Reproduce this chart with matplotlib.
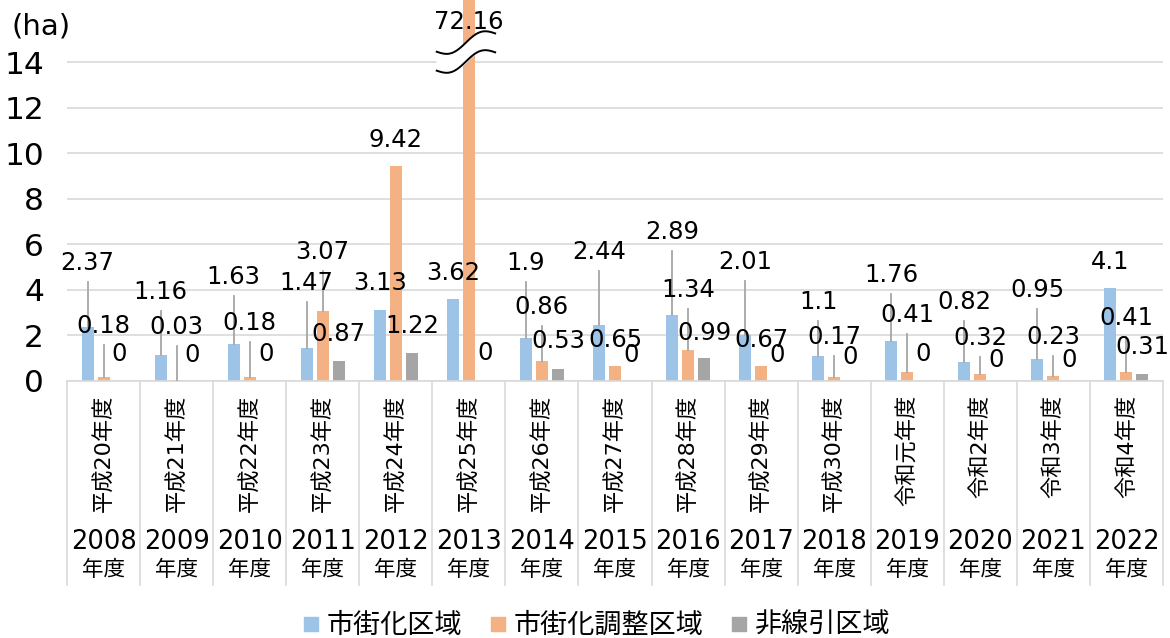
import numpy as np
import matplotlib
matplotlib.use("Agg")
import matplotlib.pyplot as plt
from matplotlib.lines import Line2D
import matplotlib.transforms as mtransforms

plt.rcParams['font.family'] = ['DejaVu Sans', 'Noto Sans CJK JP']

# ---- data ----
era_labels = ["平成20年度", "平成21年度", "平成22年度", "平成23年度", "平成24年度",
              "平成25年度", "平成26年度", "平成27年度", "平成28年度", "平成29年度",
              "平成30年度", "令和元年度", "令和2年度", "令和3年度", "令和4年度"]
years = ["2008", "2009", "2010", "2011", "2012", "2013", "2014", "2015",
         "2016", "2017", "2018", "2019", "2020", "2021", "2022"]
series_names = ["市街化区域", "市街化調整区域", "非線引区域"]
urban = [2.37, 1.16, 1.63, 1.47, 3.13, 3.62, 1.9, 2.44, 2.89, 2.01, 1.1, 1.76, 0.82, 0.95, 4.1]
adjust = [0.18, 0.03, 0.18, 3.07, 9.42, 72.16, 0.86, 0.65, 1.34, 0.67, 0.17, 0.41, 0.32, 0.23, 0.41]
nonline = [0, 0, 0, 0.87, 1.22, 0, 0.53, 0, 0.99, 0, 0, 0, 0, 0, 0.31]

# ---- layout (label heights in axis units) ----
lab_urban = [5.18, 3.91, 4.56, 4.30, 4.30, 4.74, 5.18, 5.66, 6.54, 5.22, 3.47, 4.65, 3.47, 3.99, 5.22]
lab_adjust = [2.41, 2.37, 2.55, 5.66, 10.58, 15.76, 3.25, 1.80, 3.99, 1.80, 1.93, 2.90, 1.89, 1.93, 2.76]
lab_nonline = [1.18, 1.14, 1.18, 2.06, 2.41, 1.23, 1.76, 1.14, 2.11, 1.14, 1.05, 1.18, 0.92, 0.92, 1.49]

colors = ["#9DC3E6", "#F4B183", "#A5A5A5"]
W, H = 1170, 638
fig = plt.figure(figsize=(W / 100, H / 100), dpi=100)
ax_l, ax_r, ax_t, ax_b = 67, 1163, 0, 381
ax = fig.add_axes([ax_l / W, 1 - ax_b / H, (ax_r - ax_l) / W, (ax_b - ax_t) / H])

n = len(years)
x = np.arange(n)
px_per_cat = (ax_r - ax_l) / n
ymax = 381 / (319 / 14)
px_per_unit = 381 / ymax
bw = 12 / px_per_cat
off = 16 / px_per_cat

ax.set_xlim(-0.5, n - 0.5)
ax.set_ylim(0, ymax)

all_vals = [urban, adjust, nonline]
all_labs = [lab_urban, lab_adjust, lab_nonline]
for k in range(3):
    xs = x + (k - 1) * off
    ax.bar(xs, all_vals[k], width=bw, color=colors[k], zorder=2)

# data labels with leader lines
drop = 19 / px_per_unit
for k in range(3):
    xs = x + (k - 1) * off
    for i in range(n):
        v = all_vals[k][i]
        ly = all_labs[k][i]
        txt = f"{v:g}"
        ax.text(xs[i], ly, txt, ha='center', va='center', fontsize=17.5,
                color='black', zorder=5, clip_on=False)
        start = ly - drop
        if v < ly and start - v > 12 / px_per_unit:
            ax.plot([xs[i], xs[i]], [v, start], color='#A6A6A6', lw=1.3, zorder=3)

# break marks on the 72.16 bar
t = np.linspace(0, 1, 60)
bx = 4.56 + 0.8 * t
top = 14.45 + 0.805 * t - 0.263 * np.sin(2 * np.pi * t)
bot = 13.62 + 0.805 * t - 0.263 * np.sin(2 * np.pi * t)
ax.fill_between(bx, bot, top, color='white', zorder=4, clip_on=False)
ax.plot(bx, top, color='black', lw=1.4, zorder=4, clip_on=False)
ax.plot(bx, bot, color='black', lw=1.4, zorder=4, clip_on=False)

# y axis
ax.set_yticks(range(0, 15, 2))
ax.tick_params(axis='y', length=0, pad=16.5, labelsize=22.5)
ax.grid(axis='y', color='#D9D9D9', lw=1.2, zorder=0)
ax.set_axisbelow(True)
for s in ['top', 'right', 'left']:
    ax.spines[s].set_visible(False)
ax.spines['bottom'].set_color('#D9D9D9')
ax.spines['bottom'].set_linewidth(1.2)
ax.set_xticks([])

fig.text(11 / W, 1 - 26 / H, "(ha)", fontsize=21, ha='left', va='center')

# two-level category axis
trans = mtransforms.blended_transform_factory(ax.transData, ax.transAxes)
axh = ax_b - ax_t
for i in range(n + 1):
    ax.plot([i - 0.5, i - 0.5], [0, -(585 - 381) / axh], color='#D9D9D9', lw=1.2,
            transform=trans, clip_on=False)
for i in range(n):
    ax.text(i, -(395 - 381) / axh, era_labels[i], rotation=90, ha='center', va='top',
            fontsize=16, transform=trans)
    ax.text(i, -(542 - 381) / axh, years[i], ha='center', va='center',
            fontsize=18.5, transform=trans)
    ax.text(i, -(570 - 381) / axh, "年度", ha='center', va='center',
            fontsize=15.5, transform=trans)

handles = [Line2D([], [], marker='s', ls='', color=c, markersize=9.4) for c in colors]
fig.legend(handles, series_names, loc='center', bbox_to_anchor=(596 / W, 1 - 626 / H),
           ncol=3, frameon=False, fontsize=19.5, handlelength=0.65, handletextpad=0.25,
           columnspacing=1.0, borderpad=0, borderaxespad=0)

fig.savefig("out.png", dpi=100)
